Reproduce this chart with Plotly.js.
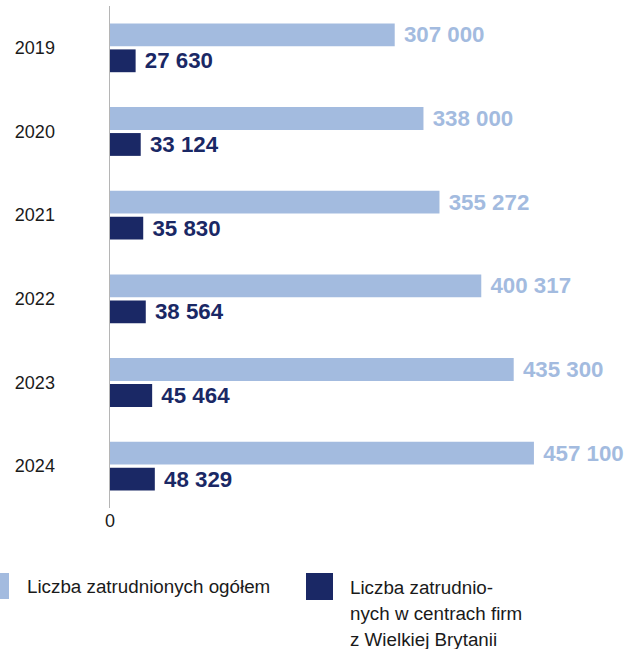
<!DOCTYPE html>
<html>
<head>
<meta charset="utf-8">
<script src="https://cdn.plot.ly/plotly-3.0.1.min.js"></script>
<style>html,body{margin:0;padding:0;background:#fff;}</style>
</head>
<body>
<div id="chart" style="width:634px;height:649px;"></div>
<script>
const years = ['2019', '2020', '2021', '2022', '2023', '2024'];
const totalEmployed = [307000, 338000, 355272, 400317, 435300, 457100];
const ukFirmEmployed = [27630, 33124, 35830, 38564, 45464, 48329];
const seriesNames = ['Liczba zatrudnionych ogółem', 'Liczba zatrudnionych w centrach firm z Wielkiej Brytanii'];
const legendLines2 = ['Liczba zatrudnio-', 'nych w centrach firm', 'z Wielkiej Brytanii'];
const xTickVals = [0];
const xTickText = ['0'];

const LIGHT = '#a3bbdf';
const NAVY = '#1a2865';
const FONT = '"Liberation Sans", Arial, Helvetica, sans-serif';

const W = 634, H = 649;
const M = {l: 110, r: 0, t: 6, b: 141};
const plotW = W - M.l - M.r, plotH = H - M.t - M.b;
const px = x => (x - M.l) / plotW;
const py = y => (H - M.b - y) / plotH;

const fmt = v => '\u00a0' + String(v).replace(/\B(?=(\d{3})+(?!\d))/g, ' ');

const traces = [
  {
    type: 'bar', orientation: 'h', name: seriesNames[0],
    y: years, x: totalEmployed,
    marker: {color: LIGHT},
    text: totalEmployed.map(fmt), textposition: 'outside',
    textfont: {family: FONT, size: 22.3, color: LIGHT, weight: 'bold'},
    constraintext: 'none', cliponaxis: false, hoverinfo: 'skip'
  },
  {
    type: 'bar', orientation: 'h', name: seriesNames[1],
    y: years, x: ukFirmEmployed,
    marker: {color: NAVY},
    text: ukFirmEmployed.map(fmt), textposition: 'outside',
    textfont: {family: FONT, size: 22.3, color: NAVY, weight: 'bold'},
    constraintext: 'none', cliponaxis: false, hoverinfo: 'skip'
  }
];

const textColor = '#1a1a1a';
const layout = {
  width: W, height: H,
  margin: M,
  paper_bgcolor: '#fff', plot_bgcolor: '#fff',
  barmode: 'group', bargap: 0.38, bargroupgap: 0.12,
  showlegend: false,
  font: {family: FONT, color: textColor},
  xaxis: {
    range: [0, 565000], tickvals: xTickVals, ticktext: xTickText,
    showgrid: false, zeroline: false, showline: false, ticks: '',
    tickfont: {size: 18, color: textColor}, fixedrange: true
  },
  yaxis: {
    type: 'category', autorange: 'reversed',
    showline: true, linecolor: '#b5b5b5', linewidth: 1.5,
    showgrid: false, zeroline: false, ticks: '',
    ticklabelstandoff: 50,
    tickfont: {size: 18, color: textColor}, fixedrange: true
  },
  shapes: [
    {type: 'rect', xref: 'paper', yref: 'paper', x0: px(-17), x1: px(9), y0: py(599), y1: py(573), fillcolor: LIGHT, line: {width: 0}},
    {type: 'rect', xref: 'paper', yref: 'paper', x0: px(306), x1: px(333), y0: py(600), y1: py(573), fillcolor: NAVY, line: {width: 0}}
  ],
  annotations: [
    {xref: 'paper', yref: 'paper', x: px(25), y: py(586), xanchor: 'left', yanchor: 'middle', showarrow: false, text: seriesNames[0], font: {size: 18.8, color: textColor}}
  ].concat(legendLines2.map((t, i) => ({
    xref: 'paper', yref: 'paper', x: px(348), y: py(587 + i * 26), xanchor: 'left', yanchor: 'middle', showarrow: false, text: t, font: {size: 18.8, color: textColor}
  })))
};

Plotly.newPlot('chart', traces, layout, {displayModeBar: false, staticPlot: true});
</script>
</body>
</html>
